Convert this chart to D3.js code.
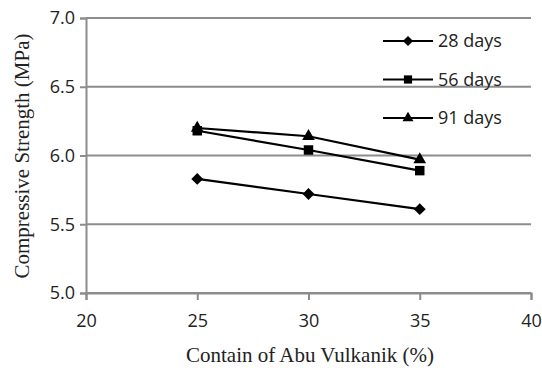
<!DOCTYPE html>
<html>
<head>
<meta charset="utf-8">
<script src="https://cdn.jsdelivr.net/npm/d3@7"></script>
<style>
  body { margin: 0; background: #fff; }
  .tick text { font-family: "Open Sans", sans-serif; font-size: 18px; fill: #222; }
  .title { font-family: "Liberation Serif", serif; font-size: 21px; fill: #222; }
  .legend text { font-family: "Open Sans", sans-serif; font-size: 18px; fill: #222; }
</style>
</head>
<body>
<div class="vis-chart"></div>
<script>
// data
const xValues = [25, 30, 35];
const days28 = [5.83, 5.72, 5.61];
const days56 = [6.18, 6.04, 5.89];
const days91 = [6.2, 6.14, 5.97];
const seriesNames = ['28 days', '56 days', '91 days'];
const xTicks = [20, 25, 30, 35, 40];
const yTicks = [5.0, 5.5, 6.0, 6.5, 7.0];

// diamond = square turned 45deg, it is wider than d3.symbolDiamond
const diamond = {
    draw(ctx, size) {
        const r = Math.sqrt(size / 2);
        ctx.moveTo(0, -r);
        ctx.lineTo(r, 0);
        ctx.lineTo(0, r);
        ctx.lineTo(-r, 0);
        ctx.closePath();
    }
};

const series = [
    {name: seriesNames[0], values: days28, symbol: diamond, size: 70},
    {name: seriesNames[1], values: days56, symbol: d3.symbolSquare, size: 90},
    {name: seriesNames[2], values: days91, symbol: d3.symbolTriangle, size: 70}
];

const margin = {top: 18, right: 11, bottom: 75, left: 86};
const width = 542 - margin.left - margin.right;
const height = 368 - margin.top - margin.bottom;

const svg = d3.select('.vis-chart').append('svg')
    .attr('width', 542)
    .attr('height', 368);
const g = svg.append('g')
    .attr('transform', 'translate(' + margin.left + ',' + margin.top + ')');

const x = d3.scaleLinear().domain([20, 40]).range([0, width]);
const y = d3.scaleLinear().domain([5, 7]).range([height, 0]);

// gridlines
g.selectAll('.grid')
    .data(yTicks)
    .enter().append('line')
    .attr('x1', 0).attr('x2', width)
    .attr('y1', d => y(d)).attr('y2', d => y(d))
    .attr('stroke', '#8c8c8c')
    .attr('stroke-width', 2);

// y axis
const yAxis = g.append('g')
    .call(d3.axisLeft(y).tickValues(yTicks).tickFormat(d3.format('.1f')).tickSize(6).tickPadding(5));
yAxis.selectAll('.domain, .tick line').attr('stroke', '#8c8c8c').attr('stroke-width', 2);

// x axis
const xAxis = g.append('g')
    .attr('transform', 'translate(0,' + height + ')')
    .call(d3.axisBottom(x).tickValues(xTicks).tickSize(7).tickPadding(14));
xAxis.selectAll('.domain, .tick line').attr('stroke', '#8c8c8c').attr('stroke-width', 2);

// lines
const line = d3.line()
    .x((d, i) => x(xValues[i]))
    .y(d => y(d));

series.forEach(s => {
    g.append('path')
        .datum(s.values)
        .attr('fill', 'none')
        .attr('stroke', '#000')
        .attr('stroke-width', 2.2)
        .attr('d', line);
    g.selectAll(null)
        .data(s.values)
        .enter().append('path')
        .attr('transform', (d, i) => 'translate(' + x(xValues[i]) + ',' + y(d) + ')')
        .attr('d', d3.symbol().type(s.symbol).size(s.size))
        .attr('fill', '#000');
});

// legend
const legend = g.append('g').attr('class', 'legend')
    .attr('transform', 'translate(297,23)');
series.forEach((s, i) => {
    const row = legend.append('g').attr('transform', 'translate(0,' + (i * 38.5) + ')');
    row.append('line').attr('x1', 0).attr('x2', 50).attr('stroke', '#000').attr('stroke-width', 2);
    row.append('path').attr('transform', 'translate(25,0)')
        .attr('d', d3.symbol().type(s.symbol).size(s.size * 0.75)).attr('fill', '#000');
    row.append('text').attr('x', 55).attr('dy', '0.35em').text(s.name);
});

// axis titles
svg.append('text').attr('class', 'title')
    .attr('x', 310)
    .attr('y', 362)
    .attr('text-anchor', 'middle')
    .text('Contain of Abu Vulkanik (%)');

svg.append('text').attr('class', 'title')
    .attr('transform', 'translate(29,156) rotate(-90)')
    .attr('text-anchor', 'middle')
    .text('Compressive Strength (MPa)');
</script>
</body>
</html>
